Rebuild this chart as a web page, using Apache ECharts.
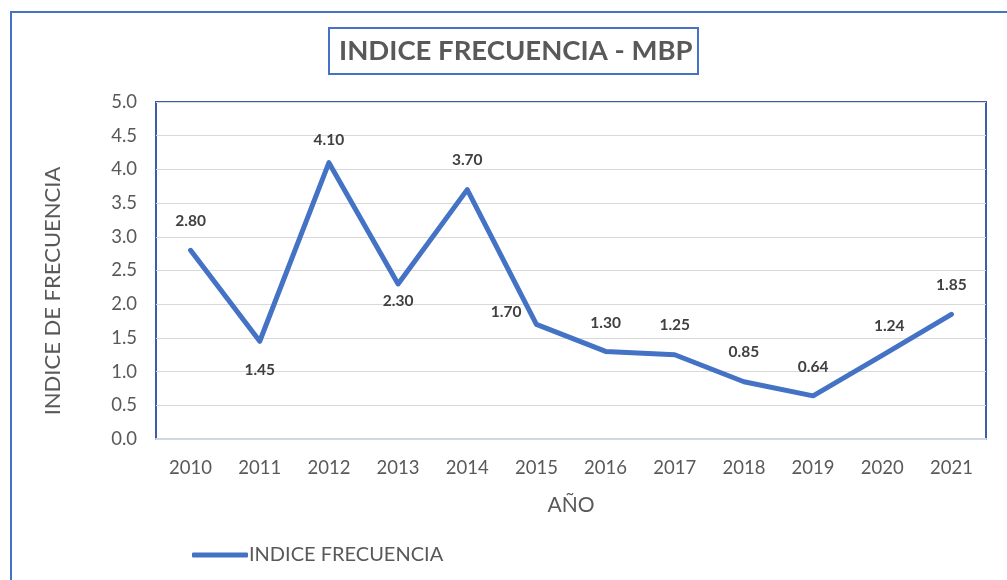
<!DOCTYPE html>
<html>
<head>
<meta charset="utf-8">
<script src="https://cdn.jsdelivr.net/npm/echarts@6/dist/echarts.min.js"></script>
<style>
html,body{margin:0;padding:0;background:#fff;}
#chart{width:1007px;height:580px;}
</style>
</head>
<body>
<div id="chart"></div>
<script>
// ---- data ----
const years = ['2010','2011','2012','2013','2014','2015','2016','2017','2018','2019','2020','2021'];
const indiceFrecuencia = [2.80, 1.45, 4.10, 2.30, 3.70, 1.70, 1.30, 1.25, 0.85, 0.64, 1.24, 1.85];
const seriesName = 'INDICE FRECUENCIA';
const titleText = 'INDICE FRECUENCIA - MBP';
const yAxisName = 'INDICE DE FRECUENCIA';
const xAxisName = 'AÑO';

// ---- label placement (style) ----
const labelStyle = [
  {position:'top', distance:20},
  {position:'bottom', distance:20},
  {position:'top', distance:14},
  {position:'bottom', distance:8},
  {position:'top', distance:21},
  {position:'left', distance:14, offset:[0,-12]},
  {position:'top', distance:19},
  {position:'top', distance:21},
  {position:'top', distance:21},
  {position:'top', distance:20},
  {position:'top', distance:20, offset:[7,0]},
  {position:'top', distance:20}
];

const FONT = 'Lato, "Open Sans", sans-serif';
const chart = echarts.init(document.getElementById('chart'));
chart.setOption({
  animation:false,
  backgroundColor:'#fff',
  graphic:[{
    type:'rect', left:10, top:11, z:-10,
    shape:{width:1200, height:800},
    style:{fill:'#fff', stroke:'#4472c4', lineWidth:2}
  },{
    type:'text', x:53, y:291, rotation:Math.PI/2, z:10,
    style:{text:yAxisName, fontFamily:FONT, fontSize:22, fill:'#595959',
      align:'center', verticalAlign:'middle'}
  }],
  title:{
    text:titleText,
    left:329, top:28,
    padding:[9,6,9,10],
    borderColor:'#4472c4', borderWidth:2,
    textStyle:{fontFamily:FONT, fontWeight:'bold', fontSize:27.5, color:'#595959'}
  },
  legend:{
    left:187, top:540,
    icon:'roundRect', itemWidth:56, itemHeight:5, itemGap:10,
    itemStyle:{color:'#4472c4', opacity:1},
    textStyle:{fontFamily:FONT, fontSize:20, color:'#595959', padding:[0,0,0,-4]},
    data:[seriesName]
  },
  grid:{
    left:156, top:102, right:21, bottom:141,
    show:true, borderColor:'#3c5ca8', borderWidth:2, backgroundColor:'#fff'
  },
  xAxis:{
    type:'category', data:years, boundaryGap:true,
    name:xAxisName, nameLocation:'middle', nameGap:56,
    nameTextStyle:{fontFamily:FONT, fontSize:21, color:'#595959'},
    axisLine:{show:true, lineStyle:{color:'#d0d6e2', width:2}},
    axisTick:{show:false},
    axisLabel:{fontFamily:FONT, fontSize:18.5, color:'#595959', margin:20}
  },
  yAxis:{
    type:'value', min:0, max:5, interval:0.5,
    axisLine:{show:false}, axisTick:{show:false},
    axisLabel:{fontFamily:FONT, fontSize:18.5, color:'#595959', margin:19,
      formatter:v=>v.toFixed(1)},
    splitLine:{lineStyle:{color:'#d9d9d9', width:1}}
  },
  series:[{
    name:seriesName, type:'line',
    data:indiceFrecuencia.map((v,i)=>({value:v, label:Object.assign({show:true}, labelStyle[i])})),
    symbol:'circle', symbolSize:2, showSymbol:true,
    lineStyle:{color:'#4472c4', width:5, cap:'round', join:'round'},
    itemStyle:{color:'#4472c4'},
    label:{show:true, fontFamily:FONT, fontWeight:'bold', fontSize:15.5, color:'#404040',
      formatter:p=>Number(p.value).toFixed(2)}
  }]
});
</script>
</body>
</html>
